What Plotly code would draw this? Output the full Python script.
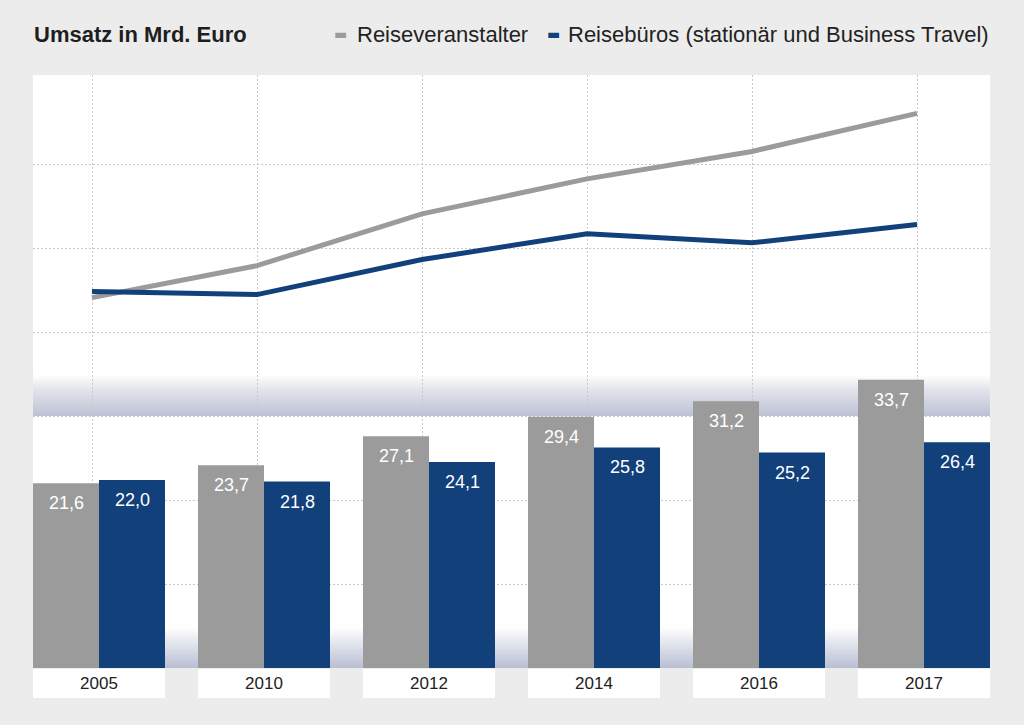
import base64
import plotly.graph_objects as go

# ---- data ----
years = ["2005", "2010", "2012", "2014", "2016", "2017"]
veranstalter = [21.6, 23.7, 27.1, 29.4, 31.2, 33.7]
bueros = [22.0, 21.8, 24.1, 25.8, 25.2, 26.4]
name_veranstalter = "Reiseveranstalter"
name_bueros = "Reisebüros (stationär und Business Travel)"
title_text = "Umsatz in Mrd. Euro"

# ---- style ----
GRAY = "#9b9b9b"
BLUE = "#11407a"
BG = "#ececec"
GRID = "#c9c9c9"
FONT = "Liberation Sans, Arial, sans-serif"
PX_PER_UNIT_BAR = 8.55
PLOT_H = 593
GRID_STEP_PX = 84
BAR_HALF_PX = 33


def grad_uri(stops):
    st = "".join(f"<stop offset='{o}' stop-color='{c}'/>" for o, c in stops)
    svg = ("<svg xmlns='http://www.w3.org/2000/svg' width='100' height='100' "
           "viewBox='0 0 100 100' preserveAspectRatio='none'><defs>"
           "<linearGradient id='g' x1='0' y1='0' x2='0' y2='1'>" + st +
           "</linearGradient></defs><rect width='100' height='100' fill='url(#g)'/></svg>")
    return "data:image/svg+xml;base64," + base64.b64encode(svg.encode()).decode()


def fmt(v):
    return f"{v:.1f}".replace(".", ",")


fig = go.Figure()
for vals, col, nm in [(veranstalter, GRAY, name_veranstalter), (bueros, BLUE, name_bueros)]:
    fig.add_trace(go.Bar(
        x=years, y=vals, name=nm, marker=dict(color=col, line=dict(width=0)),
        showlegend=False, hoverinfo="skip"))

for vals, col, nm in [(veranstalter, GRAY, name_veranstalter), (bueros, BLUE, name_bueros)]:
    fig.add_trace(go.Scatter(
        x=years, y=vals, xaxis="x2", yaxis="y2", mode="lines", name=nm,
        line=dict(color=col, width=5), showlegend=False, hoverinfo="skip"))

ymax = PLOT_H / PX_PER_UNIT_BAR
grid_step = GRID_STEP_PX / PX_PER_UNIT_BAR
shift = 7 / 164.9

annotations = [
    dict(text=f"<b>{title_text}</b>", xref="paper", yref="paper", x=0, y=1.069,
         xanchor="left", yanchor="middle", showarrow=False, borderpad=0,
         font=dict(size=22, color="#1e1e1e", family=FONT)),
    dict(text="▬", xref="paper", yref="paper", x=0.3215, y=1.069,
         xanchor="center", yanchor="middle", showarrow=False, borderpad=0,
         font=dict(size=14, color=GRAY, family="DejaVu Sans")),
    dict(text=name_veranstalter, xref="paper", yref="paper", x=0.337, y=1.069,
         xanchor="left", yanchor="middle", showarrow=False, borderpad=0,
         font=dict(size=22, color="#222222", family=FONT)),
    dict(text="▬", xref="paper", yref="paper", x=0.5435, y=1.069,
         xanchor="center", yanchor="middle", showarrow=False, borderpad=0,
         font=dict(size=14, color=BLUE, family="DejaVu Sans")),
    dict(text=name_bueros, xref="paper", yref="paper", x=0.558, y=1.069,
         xanchor="left", yanchor="middle", showarrow=False, borderpad=0,
         font=dict(size=22, color="#222222", family=FONT)),
]
for i, yr in enumerate(years):
    annotations.append(dict(
        text=yr, xref="x", yref="paper", x=i, y=0, yshift=-1,
        xanchor="center", yanchor="top", showarrow=False,
        width=132, height=29, bgcolor="white", borderpad=0, borderwidth=0,
        font=dict(size=17, color="#222222", family=FONT)))
    for vals, xs in [(veranstalter, -BAR_HALF_PX), (bueros, BAR_HALF_PX)]:
        annotations.append(dict(
            text=fmt(vals[i]), xref="x", yref="y", x=i, y=vals[i],
            xshift=xs, yshift=-20, xanchor="center", yanchor="middle",
            showarrow=False, borderpad=0,
            font=dict(size=18, color="white", family=FONT)))

images = [
    dict(source=grad_uri([(0, "#ffffff"), (0.35, "#e3e4eb"), (1, "#bcc1d4")]),
         xref="paper", yref="paper", x=0, y=(668 - 375) / PLOT_H,
         sizex=1, sizey=41 / PLOT_H, sizing="stretch", layer="below",
         xanchor="left", yanchor="top"),
    dict(source=grad_uri([(0, "#ffffff"), (1, "#b9bed2")]),
         xref="paper", yref="paper", x=0, y=41 / PLOT_H,
         sizex=1, sizey=41 / PLOT_H, sizing="stretch", layer="below",
         xanchor="left", yanchor="top"),
]

fig.update_layout(
    width=1024, height=725,
    margin=dict(l=33, r=34, t=75, b=57),
    paper_bgcolor=BG, plot_bgcolor="white",
    separators=", ",
    barmode="group", bargap=0.2, bargroupgap=0,
    font=dict(family=FONT),
    xaxis=dict(type="category", categoryorder="array", categoryarray=years,
               range=[-0.4, 5.4], showgrid=False, showticklabels=False,
               ticks="", showline=False, zeroline=False, fixedrange=True),
    xaxis2=dict(type="category", categoryorder="array", categoryarray=years,
                overlaying="x", anchor="y2",
                range=[-0.4 + shift, 5.4 + shift], showgrid=True,
                gridcolor=GRID, griddash="2px,2px", gridwidth=1,
                showticklabels=False, ticks="", showline=False, zeroline=False),
    yaxis=dict(range=[0, ymax], tickmode="array",
               tickvals=[grid_step * k for k in range(1, 7)],
               showgrid=True, gridcolor=GRID, griddash="2px,2px", gridwidth=1,
               showticklabels=False, ticks="", showline=False, zeroline=False),
    yaxis2=dict(overlaying="y", range=[-2.72, 36.22], showgrid=False,
                showticklabels=False, ticks="", showline=False, zeroline=False),
    annotations=annotations,
    images=images,
    showlegend=False,
)

fig.write_html(
    "out.html",
    config={"displayModeBar": False},
    post_script="document.body.style.margin='0';document.body.style.padding='0';"
                "document.body.style.background='" + BG + "';",
)
